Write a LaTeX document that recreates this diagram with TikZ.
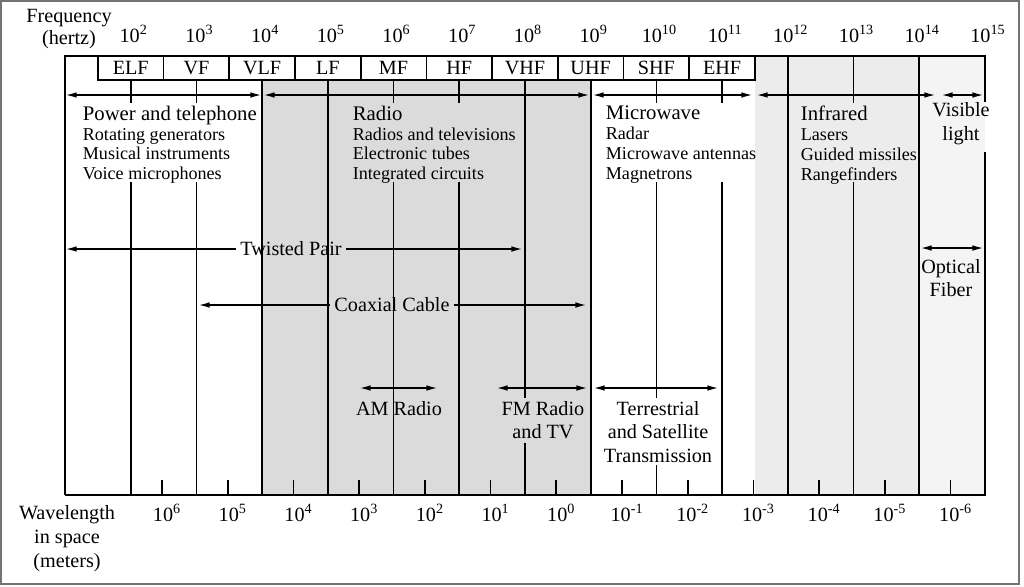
\documentclass[tikz,border=0pt]{standalone}
\usepackage{fontspec}
\setmainfont{Liberation Serif}
\usetikzlibrary{arrows.meta}
\definecolor{radiogray}{gray}{0.86}
\definecolor{irgray}{gray}{0.925}
\definecolor{visgray}{gray}{0.955}
\definecolor{framegray}{gray}{0.45}

\begin{document}
\begin{tikzpicture}[x=0.02cm,y=-0.02cm,line width=1pt,
	>={Latex[length=6pt,width=3.2pt]},
	lbl/.style={font=\fontsize{11.5}{13.5}\selectfont,inner sep=0pt},
	applist/.style={font=\fontsize{10.3}{11.3}\selectfont,align=left,inner sep=0pt,anchor=north west},
	rangearrow/.style={line width=0.7pt,<->},
	gaplbl/.style={lbl,inner sep=2pt}]
			\useasboundingbox (0,0) rectangle (1024,586);
			\draw [framegray,line width=1.2pt] (1,1) rectangle (1019,584);
			\fill [radiogray] (262,80) rectangle (591,495);
			\fill [irgray] (755,56) rectangle (919,495);
			\fill [visgray] (919,56) rectangle (985,495);
			\draw (65,495) -- (65,56) -- (985,56) -- (985,102);
			\draw (985,152) -- (985,495) -- (65,495);
			\draw (98,56) -- (98,80) -- (755,80) -- (755,56);
			\foreach \x in {163.6,229.3,295,360.7,426.4,492.1,557.9,623.6,689.3}
				\draw (\x,56) -- (\x,80);
			\foreach \n [count=\i] in {ELF,VF,VLF,LF,MF,HF,VHF,UHF,SHF,EHF}
				\node [lbl] (band\i) at ({65+65.71*\i},68) {\n};
			\foreach \k in {2,...,15}
				\node [lbl,anchor=base] (freq\k) at ({68+65.71*(\k-1)},42) {10\textsuperscript{\k}};
			\foreach \x in {130.7,196.4,393.6,459.3,722.1}
				\draw (\x,80) -- (\x,103) (\x,182) -- (\x,495);
			\draw (262.1,80) -- (262.1,495);
			\draw (327.8,80) -- (327.8,495);
			\draw (525,80) -- (525,398) (525,443) -- (525,495);
			\draw (590.7,80) -- (590.7,495);
			\draw (656.4,80) -- (656.4,103) (656.4,182) -- (656.4,398) (656.4,465) -- (656.4,495);
			\draw (787.8,56) -- (787.8,495);
			\draw (853.5,56) -- (853.5,103) (853.5,182) -- (853.5,495);
			\draw (919.2,56) -- (919.2,495);
			\foreach \k in {2,...,14}{
				\pgfmathtruncatemacro\e{8-\k}
				\draw ({65+65.71*(\k-0.523)},480) -- ++(0,15);
				\node [lbl,anchor=base] (wave\k) at ({70+65.71*(\k-0.523)},521) {10\textsuperscript{\e}};
			}
			\node [lbl,align=center,font=\fontsize{11.5}{12.5}\selectfont] (freqtitle) at (69,29) {Frequency\\(hertz)};
			\node [lbl,align=center,font=\fontsize{11.5}{13.6}\selectfont] (wavetitle) at (67,539) {Wavelength\\in space\\(meters)};
			\draw [rangearrow] (66,95) -- (261,95);
			\draw [rangearrow] (264,95) -- (589,95);
			\draw [rangearrow] (593,95) -- (752,95);
			\draw [rangearrow] (757,95) -- (935,95);
			\draw [rangearrow] (942,95) -- (983,95);
			\node [applist] (power) at (82,105) {{\fontsize{11.8}{11.3}\selectfont Power and telephone}\\Rotating generators\\Musical instruments\\Voice microphones};
			\node [applist] (radio) at (352,105) {{\fontsize{11.8}{11.3}\selectfont Radio}\\Radios and televisions\\Electronic tubes\\Integrated circuits};
			\node [applist] (micro) at (605,105) {{\fontsize{11.8}{11.3}\selectfont Microwave}\\Radar\\Microwave antennas\\Magnetrons};
			\node [applist] (infra) at (800,105) {{\fontsize{11.8}{11.3}\selectfont Infrared}\\Lasers\\Guided missiles\\Rangefinders};
			\node [lbl,align=center] (visible) at (961,124) {Visible\\light};
			\node [gaplbl] (twisted) at (291,249) {Twisted Pair};
			\draw [line width=0.7pt,<-] (66,249) -- (twisted.west);
			\draw [line width=0.7pt,->] (twisted.east) -- (522,249);
			\node [gaplbl] (coax) at (392,305) {Coaxial Cable};
			\draw [line width=0.7pt,<-] (199,305) -- (coax.west);
			\draw [line width=0.7pt,->] (coax.east) -- (586,305);
			\node [gaplbl,align=center] (optical) at (951,278) {Optical\\Fiber};
			\draw [rangearrow] (921,248) -- (983,248);
			\node [lbl] (amradio) at (399,409) {AM Radio};
			\draw [rangearrow] (360,388) -- (437,388);
			\node [lbl,align=center] (fmradio) at (543,420) {FM Radio\\and TV};
			\draw [rangearrow] (497,388) -- (587,388);
			\node [lbl,align=center] (terr) at (658,432) {Terrestrial\\and Satellite\\Transmission};
			\draw [rangearrow] (594,388) -- (718,388);
		\end{tikzpicture}
\end{document}
